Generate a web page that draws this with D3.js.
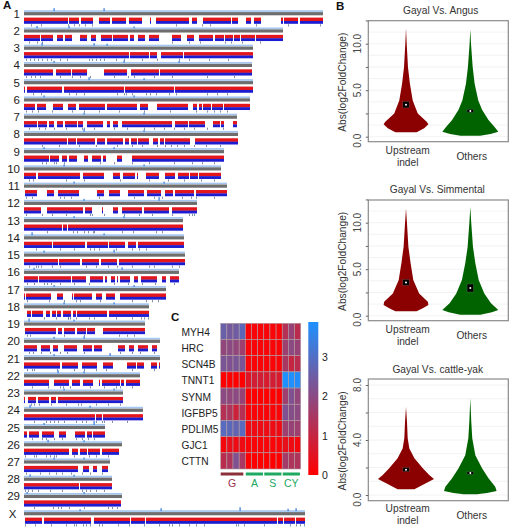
<!DOCTYPE html>
<html><head><meta charset="utf-8">
<script src="https://cdn.jsdelivr.net/npm/d3@7"></script>
<style>html,body{margin:0;padding:0;background:#fff}svg{display:block}text{font-family:"Liberation Sans",Arial,sans-serif}</style>
</head><body><svg id="c" width="520" height="530"></svg>
<script>
// ---- Panel A data (position units along the genome) ----
const chromosomes = ["1","2","3","4","5","6","7","8","9","10","11","12","13","14","15","16","17","18","19","20","21","22","23","24","25","26","27","28","29","X"];
const chrLengths = [299,259,229,228,229,226,213,214,200,197,203,173,159,160,161,155,142,125,121,136,136,116,99,119,81,98,86,88,98,281];
const chrSegments = [
 [[0,44],[45,55],[57,69],[75,86],[88,102],[105,118],[126,127],[132,165],[168,173],[179,207],[208,214],[222,227],[230,237],[257,259],[260,274],[276,299]],
 [[0,16],[17,29],[33,39],[41,48],[56,63],[67,72],[77,88],[89,104],[106,110],[114,121],[125,135],[148,157],[163,170],[175,189],[191,200],[201,209],[210,216],[217,231],[232,259]],
 [[0,105],[106,125],[126,133],[137,159],[160,229]],
 [[0,29],[32,47],[48,63],[80,103],[107,135],[136,228]],
 [[0,1],[3,38],[40,100],[101,150],[151,229]],
 [[0,11],[13,22],[29,39],[44,52],[55,81],[83,113],[116,124],[133,164],[169,173],[175,178],[179,187],[188,199],[200,222],[222,226]],
 [[0,13],[14,23],[25,30],[33,39],[41,53],[54,59],[63,79],[83,86],[89,94],[98,102],[102,148],[151,164],[165,181],[189,196],[197,200],[209,213]],
 [[0,43],[44,52],[53,71],[73,81],[83,99],[101,105],[107,113],[114,125],[129,134],[136,140],[141,166],[171,214]],
 [[0,25],[26,35],[38,43],[45,53],[60,64],[68,77],[79,82],[93,98],[108,200]],
 [[0,12],[14,33],[33,56],[59,80],[89,96],[99,111],[113,114],[122,135],[141,151],[154,165],[166,174],[175,197]],
 [[1,13],[23,30],[34,55],[73,80],[85,96],[104,120],[123,137],[141,149],[151,170],[172,203]],
 [[0,17],[23,59],[61,68],[78,79],[89,94],[98,118],[120,145],[148,173]],
 [[0,38],[39,43],[44,159]],
 [[0,28],[29,61],[63,84],[85,101],[104,112],[114,160]],
 [[0,34],[35,56],[58,75],[77,93],[95,161]],
 [[0,14],[15,47],[48,62],[66,79],[81,83],[87,91],[93,94],[96,106],[110,114],[117,133],[138,142],[146,155]],
 [[0,1],[2,27],[33,39],[48,49],[50,68],[72,78],[82,91],[96,142]],
 [[3,7],[8,19],[22,26],[28,32],[33,37],[39,47],[49,52],[53,83],[85,125]],
 [[1,32],[34,38],[40,51],[53,62],[63,71],[79,121]],
 [[0,13],[17,26],[29,34],[40,53],[59,68],[70,78],[94,101],[105,110],[114,124],[128,133]],
 [[0,36],[38,54],[58,73],[79,89],[103,112],[113,120],[127,133],[135,136]],
 [[0,25],[30,45],[48,56],[59,69],[75,76],[78,96],[97,100],[102,116]],
 [[0,1],[4,12],[14,25],[27,32],[34,99]],
 [[0,71],[72,78],[79,119]],
 [[0,3],[5,15],[18,30],[35,42],[51,61],[63,68],[69,81]],
 [[0,45],[48,54],[56,63],[64,69],[69,76],[78,95]],
 [[0,54],[59,65],[69,73],[78,84]],
 [[0,55],[56,88]],
 [[0,97]],
 [[1,18],[20,67],[70,106],[107,121],[122,253],[254,259],[260,271],[272,281]]
];
const chrTicks = [
 [7,17,44,50,55,61,68,152,178,186,232,264,296],
 [5,13,18,148,165,176,201,207,218,236],
 [2,6,10,14,18,23,27,36,43,65,68,72,76,80,92,100,118,133,155,165,185,204],
 [2,7,11,16,36,48,56,66,90,104,110,130,148,183,210],
 [9,17,45,52,60,93,100,102,108,122,126,132,145,152,183,193,203],
 [2,8,14,28,48,60,75,95,120,146,172,183,190,196,203],
 [5,15,21,30,42,58,60,70,90,103,120,130,140,150,160,170,183,199],
 [18,35,55,72,93,108,118,133,141,147,153,160,170,182,196],
 [18,22,30,32,40,76,90,108,125,150,168,178,190],
 [5,9,42,60,96,125,144,160,177,190],
 [2,8,36,40,47,75,110,130,138,158,167,172,190],
 [2,18,28,42,66,68,80,100,115,128,148,165,168,170],
 [23,49,53,60,64,69,70,98,109,132,138],
 [12,36,50,66,70,75,92,108,115,122],
 [5,12,14,17,28,36,62,72,84,93,108,125,130,148,155],
 [3,10,20,23,27,36,50,65,90,104,118,131,150],
 [3,25,40,52,56,76,108,122,128,134],
 [20,32,44,44,46,52,65,70,92,108,117,120,124],
 [3,6,40,60,95,103,110],
 [5,9,17,26,36,43,60,96,108,116,130],
 [3,8,10,33,50,60,72,82,108,130],
 [8,24,36,39,46,66,80,92,96,108],
 [7,10,15,27,42,54,57,72,84,96],
 [10,22,26,30,34,40,52,58,62,72,78,80,88,103],
 [8,18,22,30,38,52,58,64,70],
 [1,10,12,22,26,30,32,50,65,72,84],
 [2,16,25,32,38,47,58,66,78],
 [1,4,8,14,26,38,58,62,66,72,80],
 [10,29,34,37,45,60,84,88,93],
 [1,11,27,42,50,52,59,62,66,75,78,94,105,120,135,145,148,155,165,172,180,212,214,220,240,266,272,276,280]
];
const chrPeaks = [
 [[30,2],[80,2]],[[13,1.5],[45,1.5],[110,1]],[[18,2],[70,1.5],[83,1]],[[30,1],[100,1.5],[155,1]],[[65,2],[120,1]],[[20,1],[110,1]],[[60,1],[120,1]],
 [[60,2],[120,1]],[[20,1],[90,1]],[[40,1],[120,1]],[[50,1],[140,1]],[[135,3],[60,1]],[[50,1],[100,1]],[[8,2],[80,1]],[[90,2],[20,1]],[[10,1],[98,1.5]],
 [[30,1],[110,1]],[[40,1],[90,1]],[[5,2],[50,1]],[[30,1],[60,1.5]],[[86,2],[30,1]],[[34,2],[60,1]],[[40,1],[90,1]],[[6,2],[66,1]],[[70,3],[20,1]],
 [[24,1.5],[60,1]],[[30,1],[60,1]],[[6,1.5],[50,1]],[[3,1],[60,1]],[[56,1],[137,2],[216,3],[264,1.5],[272,2]]
];
// ---- Panel C data ----
const genes = ["MYH4","HRC","SCN4B","TNNT1","SYNM","IGFBP5","PDLIM5","GJC1","CTTN"];
const heatGroups = ["G","A","S","CY"];
const heatGroupSizes = [4,3,3,3];
const heatValues = [
 [2.6,2.4,2.5,2.8,0.1,0.1,0.1,0.1,0.1,0.1,1.3,1.8,1.2],
 [1.9,2.0,1.9,1.7,0.1,0.1,0.1,0.1,0.1,0.1,1.7,2.0,1.8],
 [2.3,2.2,2.3,2.3,0.1,0.1,0.1,0.1,0.1,0.1,1.5,1.0,1.2],
 [0.0,0.0,0.0,0.0,0.6,0.8,0.8,0.7,0.8,0.7,3.9,3.9,3.8],
 [2.0,1.9,2.0,1.8,0.0,0.0,0.0,0.0,0.0,0.0,1.7,2.2,1.9],
 [1.3,1.4,0.9,1.3,0.1,0.1,0.1,0.1,0.1,0.1,2.2,2.1,2.0],
 [2.9,2.8,2.7,2.9,0.3,0.3,0.3,0.3,0.3,0.3,1.7,1.8,1.7],
 [0.2,0.4,0.3,0.3,0.1,0.1,0.1,0.1,0.1,0.1,0.4,0.3,0.2],
 [1.2,1.4,2.2,1.5,0.0,0.0,0.0,0.0,0.0,0.0,1.6,1.4,1.4]
];
const legendTicks = [0,1,2,3];
// ---- Panel B data: [value, relative density] ----
const violinCategories = ["Upstream indel","Others"];
const panelTitles = ["Gayal Vs. Angus","Gayal Vs. Simmental","Gayal Vs. cattle-yak"];
const panelTicks = [[0,2.5,5,7.5,10,12.5],[0,2.5,5,7.5,10,12.5],[0,2,4,6,8]];
const panelLabelled = [[0,5,10],[0,5,10],[0,4,8]];
const panelGrid = [[0,1.25,2.5,3.75,5,6.25,7.5,8.75,10,11.25],[0,1.25,2.5,3.75,5,6.25,7.5,8.75,10,11.25],[0,1,2,3,4,5,6,7,8]];
const violinUp1 = [[11.65,0],[10,.025],[7.5,.07],[5.7,.14],[3.9,.24],[2.5,.42],[1.6,.74],[1.35,.8],[.9,.65],[.47,.38]];
const violinOt1 = [[11.55,0],[10,.025],[7.5,.085],[5.7,.155],[3.9,.285],[2.9,.42],[1.8,.65],[1.08,.86],[.54,1],[.29,.72],[.11,.35]];
const violinUp2 = [[11.54,0],[9.93,.035],[7.42,.085],[5.63,.165],[3.84,.26],[2.4,.47],[1.5,.78],[1.15,.8],[.8,.6],[.47,.38]];
const violinOt2 = [[11.7,0],[9.93,.035],[7.42,.095],[5.63,.18],[3.84,.3],[2.4,.5],[1.33,.74],[.6,1],[.36,.77],[.1,.36]];
const violinUp3 = [[6.42,0],[5.33,.035],[4.12,.06],[3.39,.12],[2.67,.3],[1.94,.6],[1.45,.83],[1.16,1],[.85,.71],[.41,.3]];
const violinOt3 = [[7.03,0],[5.33,.035],[4.12,.07],[2.9,.18],[1.94,.42],[1.21,.65],[.6,.89],[.29,.94],[.15,.6],[.05,.24]];
const panelViolins = [[violinUp1,violinOt1],[violinUp2,violinOt2],[violinUp3,violinOt3]];
// [centre, low, high]
const panelBoxes = [[[3.44,3.1,3.8],[2.76,2.6,2.95]],[[3.58,3.26,3.9],[2.97,2.55,3.4]],[[1.84,1.7,2.0],[1.6,1.5,1.7]]];
const violinColors = ["#8b0000","#006400"];

const svg = d3.select("#c");
const F = 'text';
const defs = svg.append("defs");
defs.append("filter").attr("id","soft").attr("x","-2%").attr("y","-2%").attr("width","104%").attr("height","104%")
  .append("feGaussianBlur").attr("stdDeviation",0.3);

svg.append(F).attr("x",3).attr("y",9).attr("font-size",11.5).attr("font-weight","bold").attr("fill","#111").text("A");
svg.append(F).attr("x",336).attr("y",10).attr("font-size",11.5).attr("font-weight","bold").attr("fill","#111").text("B");
svg.append(F).attr("x",171).attr("y",321).attr("font-size",11.5).attr("font-weight","bold").attr("fill","#111").text("C");

// ---- Panel A ----
const gx = d3.scaleLinear().domain([0,300]).range([24,324]);
const gy = d3.scalePoint().domain(chromosomes).range([13.6,513.6]);
const A = svg.append("g");
const marks = A.append("g").attr("filter","url(#soft)");
chromosomes.forEach((c,i)=>{
  const y = gy(c), L = chrLengths[i];
  const g = marks.append("g");
  // coverage track
  g.append("rect").attr("x",gx(0)).attr("width",gx(L)-gx(0)).attr("y",y-3.4).attr("height",1.7).attr("fill","#a4c6f0");
  g.selectAll(".pk").data(chrPeaks[i]).join("rect").attr("x",d=>gx(d[0])-0.6).attr("width",1.4)
    .attr("y",d=>y-3.4-d[1]).attr("height",d=>d[1]+1).attr("fill","#4f8be0");
  // ideogram
  g.append("rect").attr("x",gx(0)).attr("width",gx(L)-gx(0)).attr("y",y-1.5).attr("height",3.2).attr("fill","#6e6e6e");
  // red/blue bands
  g.selectAll(".r").data(chrSegments[i]).join("rect").attr("x",d=>gx(d[0])).attr("width",d=>gx(d[1])-gx(d[0]))
    .attr("y",y+4).attr("height",3.6).attr("fill","#e3141f");
  g.selectAll(".b").data(chrSegments[i]).join("rect").attr("x",d=>gx(d[0])).attr("width",d=>gx(d[1])-gx(d[0]))
    .attr("y",y+7.4).attr("height",2.8).attr("fill","#1a1ad0");
  g.selectAll(".t").data(chrTicks[i]).join("rect").attr("x",d=>gx(d)).attr("width",0.7)
    .attr("y",y+10.6).attr("height",2.2).attr("fill","#4a5f80");
});
A.selectAll(".lab").data(chromosomes).join(F).attr("x",d=>d==="X"?16.5:20).attr("y",d=>gy(d)).attr("dy","0.36em")
  .attr("text-anchor","end").attr("font-size",11.5).attr("fill","#222").text(d=>d);

// ---- Panel C ----
const nCols = d3.sum(heatGroupSizes);
const hx = d3.scaleBand().domain(d3.range(nCols)).range([220.7,300.7]);
const hy = d3.scaleBand().domain(genes).range([323.3,469]);
const hc = d3.scaleLinear().domain([0,3.9]).range(["#ff0000","#1e90ff"]);
const C = svg.append("g");
genes.forEach((g,r)=>{
  C.append("g").selectAll("rect").data(heatValues[r]).join("rect")
   .attr("x",(d,i)=>hx(i)).attr("y",hy(g)).attr("width",hx.bandwidth()).attr("height",hy.bandwidth())
   .attr("fill",d=>hc(d)).attr("stroke","#b09aa0").attr("stroke-width",0.6);
});
C.selectAll(".gene").data(genes).join(F).attr("x",181.5).attr("y",d=>hy(d)+hy.bandwidth()/2+0.8).attr("dy","0.36em")
  .attr("font-size",10.2).attr("fill","#222").text(d=>d);
let start = 0;
heatGroups.forEach((g,i)=>{
  const a = start, b = start+heatGroupSizes[i]; start = b;
  const col = i===0?"#8b3038":"#1fa860", x0 = hx(a)+(i?0.5:0), x1 = (b<nCols?hx(b):hx.range()[1])-(i===0?2:0.8);
  C.append("rect").attr("x",x0).attr("y",472.5).attr("width",x1-x0).attr("height",3).attr("fill",col);
  C.append(F).attr("x",(x0+x1)/2).attr("y",483).attr("dy","0.36em").attr("text-anchor","middle")
   .attr("font-size",10.5).attr("fill",i===0?"#a0304a":"#20a860").text(g);
});
const lg = defs.append("linearGradient").attr("id","lg").attr("x1",0).attr("x2",0).attr("y1",1).attr("y2",0);
lg.append("stop").attr("offset","0%").attr("stop-color",hc(0));
lg.append("stop").attr("offset","100%").attr("stop-color",hc(3.9));
const ly = d3.scaleLinear().domain([0,3.9]).range([475,322]);
C.append("rect").attr("x",308.3).attr("y",ly(3.9)).attr("width",10).attr("height",ly(0)-ly(3.9)).attr("fill","url(#lg)");
C.selectAll(".lt").data(legendTicks).join(F).attr("x",322).attr("y",d=>ly(d)).attr("dy","0.36em")
  .attr("font-size",10.5).attr("fill","#222").text(d=>d);

// ---- Panel B ----
const frames = [
 {top:20.7,bottom:141.7,y0:136.7,y1:43.7,max:10,title:[440.7,10],cat:[150,162,156]},
 {top:200,bottom:320.7,y0:315.7,y1:222.7,max:10,title:[437.3,189.5],cat:[329,341,335]},
 {top:379,bottom:500.7,y0:495,y1:385,max:8,title:[437.7,369],cat:[508.7,520.7,515]}
];
const left = 368.3, right = 508.3;
const vx = d3.scaleOrdinal().domain(violinCategories).range([406,470.3]);
const wScale = d3.scaleLinear().domain([0,1]).range([0,28]);
frames.forEach((f,p)=>{
  const g = svg.append("g");
  const y = d3.scaleLinear().domain([0,f.max]).range([f.y0,f.y1]);
  g.selectAll(".gr").data(panelGrid[p]).join("line").attr("x1",left).attr("x2",right)
    .attr("y1",d=>y(d)).attr("y2",d=>y(d)).attr("stroke","#efefef").attr("stroke-width",0.8);
  violinCategories.forEach((c,j)=>{
    const cx = vx(c);
    const area = d3.area().y(d=>y(d[0])).x0(d=>cx-wScale(d[1])).x1(d=>cx+wScale(d[1])).curve(d3.curveLinear);
    g.append("path").attr("d",area(panelViolins[p][j])).attr("fill",violinColors[j]).attr("filter","url(#soft)");
    const b = panelBoxes[p][j];
    g.append("rect").attr("x",cx-3.2).attr("width",6.4).attr("y",y(b[2])).attr("height",y(b[1])-y(b[2]))
      .attr("fill","#000").attr("stroke","#fff").attr("stroke-opacity",0.25).attr("stroke-width",0.5);
    g.append("circle").attr("cx",cx).attr("cy",y(b[0])).attr("r",1).attr("fill","#fff");
  });
  g.append("rect").attr("x",left).attr("y",f.top).attr("width",right-left).attr("height",f.bottom-f.top)
    .attr("fill","none").attr("stroke","#8a8a8a").attr("stroke-width",1.2);
  const axis = d3.axisLeft(y).tickValues(panelTicks[p]).tickSize(2.5).tickFormat(()=>"");
  const ag = g.append("g").attr("transform",`translate(${left},0)`).call(axis);
  ag.select(".domain").remove();
  ag.selectAll("line").attr("stroke","#666");
  g.selectAll(".yl").data(panelLabelled[p]).join(F)
    .attr("transform",d=>`translate(361,${d===0?f.bottom-1:y(d)}) rotate(-90)`)
    .attr("text-anchor","middle").attr("font-size",10).attr("fill","#444").text(d=>d3.format(".1f")(d));
  g.append(F).attr("transform",`translate(345.5,${(f.top+f.bottom)/2+1}) rotate(-90)`).attr("text-anchor","middle")
    .attr("font-size",10.2).attr("fill","#333").text("Abs(log2FoldChange)");
  g.append(F).attr("x",f.title[0]).attr("y",f.title[1]).attr("dy","0.36em").attr("text-anchor","middle")
    .attr("font-size",10.2).attr("fill","#333").text(panelTitles[p]);
  const [w1,w2] = violinCategories[0].split(" ");
  g.append(F).attr("x",407.7).attr("y",f.cat[0]).attr("dy","0.36em").attr("text-anchor","middle").attr("font-size",10.2).attr("fill","#333").text(w1);
  g.append(F).attr("x",407.7).attr("y",f.cat[1]).attr("dy","0.36em").attr("text-anchor","middle").attr("font-size",10.2).attr("fill","#333").text(w2);
  g.append(F).attr("x",471.7).attr("y",f.cat[2]).attr("dy","0.36em").attr("text-anchor","middle").attr("font-size",10.2).attr("fill","#333").text(violinCategories[1]);
});
</script></body></html>
